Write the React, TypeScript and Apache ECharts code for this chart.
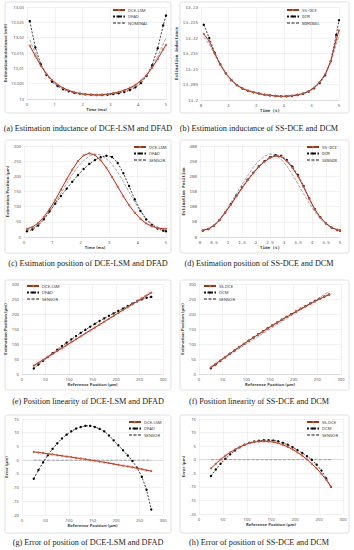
import React, { useEffect, useRef } from 'react';
import * as echarts from 'echarts';

// time axis (ms) and reference position axis (um)
const T = [0.1, 0.3, 0.5, 0.7, 0.9, 1.1, 1.3, 1.5, 1.7, 1.9, 2.1, 2.3, 2.5, 2.7, 2.9, 3.1, 3.3, 3.5, 3.7, 3.9, 4.1, 4.3, 4.5, 4.7, 4.9, 5.0];
const REF = [25, 35, 45, 55, 65, 75, 85, 95, 105, 115, 125, 135, 145, 155, 165, 175, 185, 195, 205, 215, 225, 235, 245, 255, 265, 275];

// (a) inductance
const A_DCE = [13.0174, 13.014, 13.0108, 13.0082, 13.0062, 13.0047, 13.0036, 13.0028, 13.0022, 13.0018, 13.0015, 13.0014, 13.0013, 13.0014, 13.0016, 13.0019, 13.0023, 13.0029, 13.0036, 13.0046, 13.006, 13.0078, 13.0102, 13.013, 13.0162, 13.0176];
const A_DFAD = [13.0254, 13.0168, 13.0113, 13.0078, 13.0056, 13.0042, 13.0032, 13.0025, 13.002, 13.0017, 13.0015, 13.0014, 13.0013, 13.0013, 13.0014, 13.0016, 13.0019, 13.0023, 13.0029, 13.0038, 13.0052, 13.0075, 13.011, 13.0165, 13.024, 13.0272];
const A_NOM = [13.0193, 13.015, 13.0112, 13.0082, 13.006, 13.0045, 13.0034, 13.0027, 13.0021, 13.0018, 13.0015, 13.0014, 13.0013, 13.0013, 13.0015, 13.0017, 13.0021, 13.0026, 13.0033, 13.0043, 13.0057, 13.0077, 13.0104, 13.0138, 13.018, 13.0199];

// (b) inductance
const B_SS = [13.2213, 13.219, 13.215, 13.2114, 13.2086, 13.2064, 13.2048, 13.2037, 13.203, 13.2025, 13.2021, 13.2017, 13.2015, 13.2013, 13.2012, 13.2012, 13.2014, 13.2017, 13.2021, 13.2028, 13.204, 13.2058, 13.2083, 13.2125, 13.2195, 13.2224];
const B_DCM = [13.2243, 13.22, 13.2152, 13.2115, 13.2086, 13.2064, 13.2048, 13.2037, 13.203, 13.2025, 13.2021, 13.2017, 13.2015, 13.2013, 13.2012, 13.2012, 13.2013, 13.2016, 13.202, 13.2027, 13.2038, 13.2055, 13.208, 13.2125, 13.221, 13.2257];
const B_NOM = [13.2203, 13.218, 13.2146, 13.2112, 13.2085, 13.2064, 13.2048, 13.2037, 13.203, 13.2025, 13.2021, 13.2017, 13.2015, 13.2013, 13.2012, 13.2013, 13.2014, 13.2017, 13.2022, 13.2029, 13.2041, 13.2058, 13.2082, 13.212, 13.218, 13.2208];

// (c) position vs time
const C_DCE = [27, 33, 46, 66, 92, 122, 156, 190, 222, 250, 269, 276, 270, 253, 228, 198, 166, 134, 105, 80, 60, 45, 35, 30, 27, 27];
const C_DFAD = [19, 25, 38, 58, 84, 110, 135, 159, 182, 204, 224, 241, 254, 263, 268, 264, 244, 210, 168, 124, 86, 58, 40, 28, 21, 19];
const C_SEN = [23, 29, 41, 59, 84, 113, 144, 176, 206, 232, 252, 267, 274, 270, 258, 240, 214, 182, 148, 115, 86, 62, 44, 32, 25, 23];

// (d) position vs time
const D_SS = [22, 27, 38, 56, 80, 106, 134, 161, 187, 210, 231, 248, 261, 267, 265, 250, 228, 200, 165, 126, 91, 64, 45, 31, 24, 22];
const D_DCM = [21, 26, 37, 56, 81, 108, 136, 163, 189, 212, 233, 250, 263, 270, 268, 254, 232, 204, 168, 128, 92, 65, 45, 31, 23, 21];
const D_SEN = [21, 27, 39, 58, 84, 113, 143, 173, 202, 230, 251, 266, 274, 270, 256, 234, 206, 175, 143, 112, 84, 60, 42, 29, 23, 21];

// (e) linearity
const E_DCE = [28, 37.8, 47.6, 57.3, 67.1, 76.8, 86.6, 96.3, 106.1, 115.8, 125.6, 135.3, 145, 154.8, 164.5, 174.2, 183.9, 193.6, 203.3, 213, 222.7, 232.4, 242, 251.7, 261.3, 271];
const E_DFAD = [18.2, 31.4, 44.2, 56.8, 69.1, 81.1, 92.9, 104.3, 115.5, 126.5, 137.1, 147.5, 157.5, 167.1, 176.4, 185.5, 194, 202.2, 210.4, 218.6, 226.7, 234.7, 242.2, 248.9, 254.2, 257];
const E_SEN = [25, 35, 45, 55, 65, 75, 85, 95, 105, 115, 125, 135, 145, 155, 165, 175, 185, 195, 205, 215, 225, 235, 245, 255, 265, 275];

// (f) linearity
const F_SS = [21.8, 33.5, 45.1, 56.5, 67.7, 78.8, 89.7, 100.5, 111.1, 121.5, 131.7, 141.8, 151.7, 161.5, 171.1, 180.5, 189.7, 198.8, 207.7, 216.5, 225.1, 233.5, 241.8, 249.8, 257.6, 265];
const F_DCM = [19, 31.4, 43.5, 55.4, 67, 78.4, 89.6, 100.5, 111.2, 121.7, 132, 142.2, 152.2, 162.1, 171.8, 181.2, 190.5, 199.6, 208.6, 217.5, 226.3, 235, 243.2, 251, 258.2, 265];
const F_SEN = [25, 35, 45, 55, 65, 75, 85, 95, 105, 115, 125, 135, 145, 155, 165, 175, 185, 195, 205, 215, 225, 235, 245, 255, 265, 275];

// (g) error
const G_DCE = [3, 2.8, 2.6, 2.3, 2.1, 1.8, 1.6, 1.3, 1.1, 0.8, 0.6, 0.3, 0, -0.2, -0.5, -0.8, -1.1, -1.4, -1.7, -2, -2.3, -2.6, -3, -3.3, -3.7, -4];
const G_DFAD = [-6.8, -3.6, -0.8, 1.8, 4.1, 6.1, 7.9, 9.3, 10.5, 11.5, 12.1, 12.5, 12.5, 12.1, 11.4, 10.5, 9, 7.2, 5.4, 3.6, 1.7, -0.3, -2.8, -6.1, -10.8, -18];
const G_SEN = [0, 0, 0, 0, 0, 0, 0, 0, 0, 0, 0, 0, 0, 0, 0, 0, 0, 0, 0, 0, 0, 0, 0, 0, 0, 0];

// (h) error
const H_SS = [-3.2, -1.5, 0.1, 1.5, 2.7, 3.8, 4.7, 5.5, 6.1, 6.5, 6.7, 6.8, 6.7, 6.5, 6.1, 5.5, 4.7, 3.8, 2.7, 1.5, 0.1, -1.5, -3.2, -5.2, -7.4, -10];
const H_DCM = [-6, -3.6, -1.5, 0.4, 2, 3.4, 4.6, 5.5, 6.2, 6.7, 7, 7.2, 7.2, 7.1, 6.8, 6.2, 5.5, 4.6, 3.6, 2.5, 1.3, 0, -1.8, -4, -6.8, -10];
const H_SEN = [0, 0, 0, 0, 0, 0, 0, 0, 0, 0, 0, 0, 0, 0, 0, 0, 0, 0, 0, 0, 0, 0, 0, 0, 0, 0];

const CAPTIONS = [
  '(a) Estimation inductance of DCE-LSM and DFAD',
  '(b) Estimation inductance of SS-DCE and DCM',
  '(c) Estimation position of DCE-LSM and DFAD',
  '(d) Estimation position of SS-DCE and DCM',
  '(e) Position linearity of DCE-LSM and DFAD',
  '(f) Position linearity of SS-DCE and DCM',
  '(g) Error of position of DCE-LSM and DFAD',
  '(h) Error of position of SS-DCE and DCM',
];

const SANS = 'Noto Sans';
const MONO = 'DejaVu Sans Mono';

type Kind = 'red' | 'black' | 'gray';
interface Panel {
  grid: { left: number; top: number; width: number; height: number };
  x: [number, number, number];
  y: [number, number, number];
  xName: string;
  yName: string;
  yGap: number;
  font: string;
  series: [string, number[], number[], Kind][];
  legend: { left: number; top: number };
}

const panels: Panel[] = [
  {
    grid: { left: 27, top: 7, width: 139, height: 92 }, x: [0, 5, 1], y: [13, 13.03, 0.005],
    xName: 'Time (ms)', yName: 'Estimation inductance (mH)', yGap: 17, font: SANS,
    series: [['DCE-LSM', T, A_DCE, 'red'], ['DFAD', T, A_DFAD, 'black'], ['NOMINAL', T, A_NOM, 'gray']],
    legend: { left: 112, top: 8 },
  },
  {
    grid: { left: 201, top: 7, width: 138, height: 93 }, x: [0, 5, 1], y: [13.2, 13.23, 0.005],
    xName: 'Time (s)', yName: 'Estimation inductance', yGap: 16, font: MONO,
    series: [['SS-DCE', T, B_SS, 'red'], ['DCM', T, B_DCM, 'black'], ['NOMINAL', T, B_NOM, 'gray']],
    legend: { left: 286, top: 8 },
  },
  {
    grid: { left: 24, top: 146, width: 142, height: 91 }, x: [0, 5, 1], y: [0, 300, 50],
    xName: 'Time (ms)', yName: 'Estimation Position (μm)', yGap: 12, font: SANS,
    series: [['DCE-LSM', T, C_DCE, 'red'], ['DFAD', T, C_DFAD, 'black'], ['SENSOR', T, C_SEN, 'gray']],
    legend: { left: 133, top: 145 },
  },
  {
    grid: { left: 200, top: 146, width: 140, height: 91 }, x: [0, 5, 0.5], y: [0, 300, 50],
    xName: 'Time (s)', yName: 'Estimation Position', yGap: 12, font: MONO,
    series: [['SS-DCE', T, D_SS, 'red'], ['DCM', T, D_DCM, 'black'], ['SENSOR', T, D_SEN, 'gray']],
    legend: { left: 306, top: 145 },
  },
  {
    grid: { left: 22, top: 284, width: 141, height: 90 }, x: [0, 300, 50], y: [0, 300, 50],
    xName: 'Reference Position (μm)', yName: 'Estimation Position (μm)', yGap: 12, font: SANS,
    series: [['DCE-LSM', REF, E_DCE, 'red'], ['DFAD', REF, E_DFAD, 'black'], ['SENSOR', REF, E_SEN, 'gray']],
    legend: { left: 26, top: 284 },
  },
  {
    grid: { left: 199, top: 284, width: 142, height: 90 }, x: [0, 300, 50], y: [0, 300, 50],
    xName: 'Reference Position (μm)', yName: 'Estimation Position (μm)', yGap: 12, font: SANS,
    series: [['SS-DCE', REF, F_SS, 'red'], ['DCM', REF, F_DCM, 'black'], ['SENSOR', REF, F_SEN, 'gray']],
    legend: { left: 203, top: 284 },
  },
  {
    grid: { left: 22, top: 419, width: 141, height: 96 }, x: [0, 300, 50], y: [-20, 15, 5],
    xName: 'Reference Position (μm)', yName: 'Error (μm)', yGap: 11, font: SANS,
    series: [['DCE-LSM', REF, G_DCE, 'red'], ['DFAD', REF, G_DFAD, 'black'], ['SENSOR', REF, G_SEN, 'gray']],
    legend: { left: 128, top: 420 },
  },
  {
    grid: { left: 199, top: 419, width: 144, height: 95 }, x: [0, 300, 50], y: [-20, 15, 5],
    xName: 'Reference Position (μm)', yName: 'Error (μm)', yGap: 11, font: SANS,
    series: [['SS-DCE', REF, H_SS, 'red'], ['DCM', REF, H_DCM, 'black'], ['SENSOR', REF, H_SEN, 'gray']],
    legend: { left: 306, top: 420 },
  },
];

const FRAMES = [
  [5, 2, 166, 111], [180, 2, 169, 111],
  [5, 140, 166, 113], [180, 140, 169, 113],
  [5, 280, 166, 110], [180, 280, 169, 110],
  [5, 415, 166, 118], [180, 415, 169, 118],
];
const CAPTION_Y = [128, 263, 401, 542];

function seriesStyle(kind: Kind) {
  if (kind === 'red') {
    return {
      symbol: 'circle', symbolSize: 2.2, z: 4,
      lineStyle: { color: '#8e3b1c', width: 1, shadowColor: 'rgba(255,150,180,0.6)', shadowBlur: 2 },
      itemStyle: { color: '#d4592c' },
    };
  }
  if (kind === 'black') {
    return {
      symbol: 'circle', symbolSize: 2.4, z: 3,
      lineStyle: { color: '#111', width: 0.8, type: [2, 1.5] },
      itemStyle: { color: '#000' },
    };
  }
  return {
    symbol: 'none', z: 2,
    lineStyle: { color: '#8c8c8c', width: 0.8, type: [3, 1.5] },
    itemStyle: { color: '#8c8c8c' },
  };
}

function buildOption() {
  const grid: any[] = [];
  const xAxis: any[] = [];
  const yAxis: any[] = [];
  const series: any[] = [];
  const legend: any[] = [];
  const graphic: any[] = [];

  panels.forEach((p, i) => {
    grid.push({ ...p.grid, containLabel: false });
    const labelStyle = { fontSize: 4.2, color: '#595959', fontFamily: p.font };
    const nameStyle = { fontSize: 4.2, color: '#404040', fontWeight: 'bold', fontFamily: p.font };
    xAxis.push({
      type: 'value', gridIndex: i, min: p.x[0], max: p.x[1], interval: p.x[2],
      axisLine: { show: true, lineStyle: { color: '#d0d0d0', width: 0.6 } },
      axisTick: { show: false },
      splitLine: { show: true, lineStyle: { color: '#e3e3e3', width: 0.5 } },
      axisLabel: { ...labelStyle, margin: 3 },
      name: p.xName, nameLocation: 'middle', nameGap: 8, nameTextStyle: nameStyle,
    });
    yAxis.push({
      type: 'value', gridIndex: i, min: p.y[0], max: p.y[1], interval: p.y[2],
      axisLine: { show: false },
      axisTick: { show: false },
      splitLine: { show: true, lineStyle: { color: '#e3e3e3', width: 0.5 } },
      axisLabel: { ...labelStyle, margin: 3 },
      name: p.yName, nameLocation: 'middle', nameGap: p.yGap, nameTextStyle: nameStyle,
    });
    p.series.forEach(([name, xs, ys, kind]) => {
      series.push({
        type: 'line', name, xAxisIndex: i, yAxisIndex: i,
        data: xs.map((x, k) => [x, ys[k]]),
        ...seriesStyle(kind),
      });
    });
    legend.push({
      left: p.legend.left, top: p.legend.top, orient: 'vertical',
      data: p.series.map((s) => s[0]),
      itemWidth: 12, itemHeight: 3, itemGap: 2.5, padding: 0,
      textStyle: { fontSize: 4.2, color: '#404040', fontFamily: p.font, padding: [0, 0, 0, -2] },
      selectedMode: false,
    });
  });

  FRAMES.forEach(([x, y, w, h]) => {
    graphic.push({
      type: 'rect', shape: { x, y, width: w, height: h, r: 2 }, silent: true, z: 0,
      style: { fill: 'none', stroke: '#d9d9d9', lineWidth: 0.8 },
    });
  });

  CAPTIONS.forEach((c, i) => {
    graphic.push({
      type: 'text', x: i % 2 === 0 ? 88 : 259, y: CAPTION_Y[Math.floor(i / 2)],
      style: {
        text: c, fontSize: 8.2, fontFamily: 'Liberation Serif', fill: '#222',
        align: 'center', verticalAlign: 'middle',
      },
    });
  });

  return { animation: false, backgroundColor: '#fff', grid, xAxis, yAxis, series, legend, graphic };
}

export default function App() {
  const ref = useRef<HTMLDivElement>(null);
  useEffect(() => {
    document.body.style.margin = '0';
    const chart = echarts.init(ref.current!, null, { renderer: 'svg' });
    chart.setOption(buildOption());
    return () => chart.dispose();
  }, []);
  return <div ref={ref} style={{ width: 354, height: 550 }} />;
}
